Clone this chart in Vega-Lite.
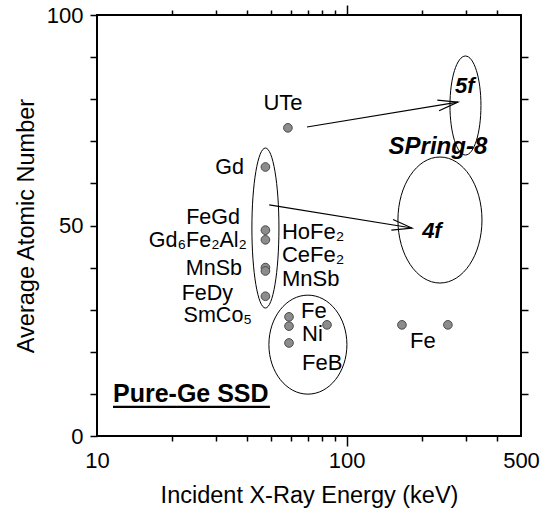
{
  "$schema": "https://vega.github.io/schema/vega-lite/v6.json",
  "width": 424,
  "height": 421,
  "autosize": {"type": "none"},
  "padding": {"left": 97, "top": 15, "right": 26, "bottom": 75},
  "background": "white",
  "config": {
    "font": "Liberation Sans",
    "view": {"stroke": "#000", "strokeWidth": 2},
    "axis": {
      "domain": false,
      "grid": false,
      "tickColor": "#000",
      "tickWidth": 1.5,
      "labelColor": "#000",
      "labelFont": "Liberation Sans",
      "labelFontSize": 22,
      "titleColor": "#000",
      "titleFont": "Liberation Sans",
      "titleFontSize": 23.5,
      "titleFontWeight": "normal"
    },
    "text": {"font": "Liberation Sans", "color": "#000"}
  },
  "datasets": {
    "compounds": [
      {"name": "Gd", "x": 47.3, "y": 63.9},
      {"name": "FeGd", "x": 47.3, "y": 48.9},
      {"name": "Gd6Fe2Al2 / HoFe2", "x": 47.3, "y": 46.6},
      {"name": "MnSb / CeFe2", "x": 47.3, "y": 40.0},
      {"name": "MnSb", "x": 47.3, "y": 39.2},
      {"name": "FeDy / SmCo5", "x": 47.3, "y": 33.2},
      {"name": "UTe", "x": 58.2, "y": 73.2},
      {"name": "Fe", "x": 58.8, "y": 28.3},
      {"name": "Ni", "x": 58.8, "y": 26.1},
      {"name": "FeB", "x": 58.8, "y": 22.1},
      {"name": "Ni", "x": 83.5, "y": 26.4},
      {"name": "Fe", "x": 166.7, "y": 26.4},
      {"name": "Fe", "x": 254.7, "y": 26.4}
    ],
    "regions": [
      {"region": "Pure-Ge", "x": 47.3, "y": 49.4},
      {"region": "Fe-Ni", "x": 70.0, "y": 21.7},
      {"region": "5f", "x": 299.5, "y": 78.5},
      {"region": "4f", "x": 236.7, "y": 51.3}
    ],
    "arrows": [
      {"series": "5f", "x": 69.4, "y": 73.4, "x2": 279.4, "y2": 79.3},
      {"series": "4f", "x": 49.0, "y": 54.9, "x2": 182.8, "y2": 49.4}
    ],
    "underline": [
      {"x": 11.59, "x2": 49.3, "y": 6.9}
    ],
    "labels": [
      {"text": "Gd", "x": 38.8, "y": 63.7, "group": "left"},
      {"text": "FeGd", "x": 37.4, "y": 51.8, "group": "left"},
      {"text": "Gd₆Fe₂Al₂", "x": 39.9, "y": 46.3, "group": "left"},
      {"text": "MnSb", "x": 38.1, "y": 39.7, "group": "left"},
      {"text": "FeDy", "x": 35.1, "y": 33.8, "group": "left"},
      {"text": "SmCo₅", "x": 41.8, "y": 28.6, "group": "left"},
      {"text": "HoFe₂", "x": 55.1, "y": 48.5, "group": "right"},
      {"text": "CeFe₂", "x": 55.1, "y": 43.0, "group": "right"},
      {"text": "MnSb", "x": 55.1, "y": 37.3, "group": "right"},
      {"text": "Fe", "x": 65.7, "y": 29.7, "group": "right"},
      {"text": "Ni", "x": 66.3, "y": 24.2, "group": "right"},
      {"text": "FeB", "x": 66.3, "y": 17.3, "group": "right"},
      {"text": "Fe", "x": 179.5, "y": 22.6, "group": "right"},
      {"text": "UTe", "x": 55.6, "y": 79.1, "group": "center"},
      {"text": "5f", "x": 297.8, "y": 83.1, "group": "shell"},
      {"text": "4f", "x": 219.8, "y": 48.7, "group": "shell"},
      {"text": "SPring-8", "x": 232.3, "y": 68.6, "group": "facility"},
      {"text": "Pure-Ge SSD", "x": 11.59, "y": 10.0, "group": "detector"}
    ]
  },
  "encoding": {
    "x": {"field": "x", "type": "quantitative", "scale": {"type": "log", "domain": [10, 500]}, "axis": null},
    "y": {"field": "y", "type": "quantitative", "scale": {"domain": [0, 100], "nice": false, "zero": false}, "axis": null}
  },
  "layer": [
    {
      "data": {"name": "regions"},
      "transform": [{"filter": "datum.region == 'Pure-Ge'"}],
      "mark": {"type": "point", "shape": "M 0.169 0 C 0.169 0.5523 0.0933 1 0 1 C -0.0933 1 -0.169 0.5523 -0.169 0 C -0.169 -0.5523 -0.0933 -1 0 -1 C 0.0933 -1 0.169 -0.5523 0.169 0 Z", "size": 25600, "filled": false, "stroke": "#000", "strokeWidth": 1, "opacity": 1},
      "encoding": {
        "x": {
          "field": "x", "type": "quantitative", "scale": {"type": "log", "domain": [10, 500]},
          "axis": {"orient": "top", "values": [20, 30, 40, 50, 60, 70, 80, 90, 200, 300, 400], "labels": false, "title": null, "ticks": true, "tickColor": "#000", "tickWidth": 1.5, "tickSize": 5}
        },
        "y": {
          "field": "y", "type": "quantitative", "scale": {"domain": [0, 100], "nice": false, "zero": false},
          "axis": {"orient": "right", "values": [10, 20, 30, 40, 50, 60, 70, 80, 90], "labels": false, "title": null, "ticks": true, "tickColor": "#000", "tickWidth": 1.5, "tickSize": 7}
        }
      }
    },
    {
      "data": {"name": "regions"},
      "transform": [{"filter": "datum.region == 'Fe-Ni'"}],
      "mark": {"type": "point", "shape": "M 0.788 0 C 0.788 0.5523 0.4352 1 0 1 C -0.4352 1 -0.788 0.5523 -0.788 0 C -0.788 -0.5523 -0.4352 -1 0 -1 C 0.4352 -1 0.788 -0.5523 0.788 0 Z", "size": 9801, "filled": false, "stroke": "#000", "strokeWidth": 1, "opacity": 1},
      "encoding": {
        "x": {
          "field": "x", "type": "quantitative", "scale": {"type": "log", "domain": [10, 500]},
          "axis": {"orient": "top", "values": [100], "labels": false, "title": null, "ticks": true, "tickColor": "#000", "tickWidth": 1.5, "tickSize": 10}
        }
      }
    },
    {
      "data": {"name": "regions"},
      "transform": [{"filter": "datum.region == '5f'"}],
      "mark": {"type": "point", "shape": "M 0.313 0 C 0.313 0.5523 0.1729 1 0 1 C -0.1729 1 -0.313 0.5523 -0.313 0 C -0.313 -0.5523 -0.1729 -1 0 -1 C 0.1729 -1 0.313 -0.5523 0.313 0 Z", "size": 9801, "filled": false, "stroke": "#000", "strokeWidth": 1, "opacity": 1},
      "encoding": {
        "x": {
          "field": "x", "type": "quantitative", "scale": {"type": "log", "domain": [10, 500]},
          "axis": {"orient": "bottom", "values": [20, 30, 40, 50, 60, 70, 80, 90, 200, 300, 400], "labels": false, "title": null, "ticks": true, "tickColor": "#000", "tickWidth": 1.5, "tickSize": 5}
        }
      }
    },
    {
      "data": {"name": "regions"},
      "transform": [{"filter": "datum.region == '4f'"}],
      "mark": {"type": "point", "shape": "M 0.667 0 C 0.667 0.5523 0.3684 1 0 1 C -0.3684 1 -0.667 0.5523 -0.667 0 C -0.667 -0.5523 -0.3684 -1 0 -1 C 0.3684 -1 0.667 -0.5523 0.667 0 Z", "size": 15876, "filled": false, "stroke": "#000", "strokeWidth": 1, "opacity": 1},
      "encoding": {
        "x": {
          "field": "x", "type": "quantitative", "scale": {"type": "log", "domain": [10, 500]},
          "axis": {"orient": "bottom", "values": [100], "labels": false, "title": null, "ticks": true, "tickColor": "#000", "tickWidth": 1.5, "tickSize": 10}
        }
      }
    },
    {
      "data": {"name": "arrows"},
      "mark": {"type": "rule", "stroke": "#000", "strokeWidth": 1.2},
      "encoding": {
        "x2": {"field": "x2"},
        "y2": {"field": "y2"}
      }
    },
    {
      "data": {"name": "arrows"},
      "transform": [{"filter": "datum.series == '5f'"}],
      "mark": {"type": "point", "shape": "M -1 -0.27 L 0 0 L -1 0.27", "size": 1600, "angle": 350.6, "filled": false, "stroke": "#000", "strokeWidth": 1.2, "opacity": 1},
      "encoding": {
        "x": {"field": "x2", "type": "quantitative", "scale": {"type": "log", "domain": [10, 500]}, "axis": null},
        "y": {"field": "y2", "type": "quantitative", "scale": {"domain": [0, 100], "nice": false, "zero": false}, "axis": null}
      }
    },
    {
      "data": {"name": "arrows"},
      "transform": [{"filter": "datum.series == '4f'"}],
      "mark": {"type": "point", "shape": "M -1 -0.27 L 0 0 L -1 0.27", "size": 1600, "angle": 9.1, "filled": false, "stroke": "#000", "strokeWidth": 1.2, "opacity": 1},
      "encoding": {
        "x": {"field": "x2", "type": "quantitative", "scale": {"type": "log", "domain": [10, 500]}, "axis": null},
        "y": {"field": "y2", "type": "quantitative", "scale": {"domain": [0, 100], "nice": false, "zero": false}, "axis": null}
      }
    },
    {
      "data": {"name": "compounds"},
      "mark": {"type": "point", "filled": true, "size": 75, "fill": "#8c8c8c", "stroke": "#4a4a4a", "strokeWidth": 1, "opacity": 1},
      "encoding": {
        "x": {
          "field": "x", "type": "quantitative", "scale": {"type": "log", "domain": [10, 500]},
          "axis": {"orient": "bottom", "values": [10, 100, 500], "format": "d", "ticks": false, "tickSize": 0,
                   "labelPadding": 14, "labelFlush": false, "labelOverlap": false,
                   "title": "Incident X-Ray Energy (keV)", "titlePadding": 12}
        },
        "y": {
          "field": "y", "type": "quantitative", "scale": {"domain": [0, 100], "nice": false, "zero": false},
          "axis": {"orient": "left", "values": [0, 10, 20, 30, 40, 50, 60, 70, 80, 90, 100],
                   "labelExpr": "datum.value % 50 == 0 ? datum.label : ''", "ticks": true, "tickColor": "#000", "tickWidth": 1.5,
                   "tickSize": 7, "labelPadding": 7, "labelFlush": false, "labelOverlap": false,
                   "title": "Average Atomic Number", "titlePadding": 8}
        }
      }
    },
    {
      "data": {"name": "underline"},
      "mark": {"type": "rule", "stroke": "#000", "strokeWidth": 2.2},
      "encoding": {"x2": {"field": "x2"}}
    },
    {
      "data": {"name": "labels"},
      "transform": [{"filter": "datum.group == 'left'"}],
      "mark": {"type": "text", "align": "right", "baseline": "middle", "fontSize": 21.5},
      "encoding": {"text": {"field": "text"}}
    },
    {
      "data": {"name": "labels"},
      "transform": [{"filter": "datum.group == 'right'"}],
      "mark": {"type": "text", "align": "left", "baseline": "middle", "fontSize": 22},
      "encoding": {"text": {"field": "text"}}
    },
    {
      "data": {"name": "labels"},
      "transform": [{"filter": "datum.group == 'center'"}],
      "mark": {"type": "text", "align": "center", "baseline": "middle", "fontSize": 22},
      "encoding": {"text": {"field": "text"}}
    },
    {
      "data": {"name": "labels"},
      "transform": [{"filter": "datum.group == 'shell'"}],
      "mark": {"type": "text", "align": "center", "baseline": "middle", "fontSize": 22, "fontWeight": "bold", "fontStyle": "italic"},
      "encoding": {"text": {"field": "text"}}
    },
    {
      "data": {"name": "labels"},
      "transform": [{"filter": "datum.group == 'facility'"}],
      "mark": {"type": "text", "align": "center", "baseline": "middle", "fontSize": 24, "fontWeight": "bold", "fontStyle": "italic"},
      "encoding": {"text": {"field": "text"}}
    },
    {
      "data": {"name": "labels"},
      "transform": [{"filter": "datum.group == 'detector'"}],
      "mark": {"type": "text", "align": "left", "baseline": "middle", "fontSize": 25, "fontWeight": "bold"},
      "encoding": {"text": {"field": "text"}}
    }
  ],
  "resolve": {"axis": {"x": "independent", "y": "independent"}}
}
